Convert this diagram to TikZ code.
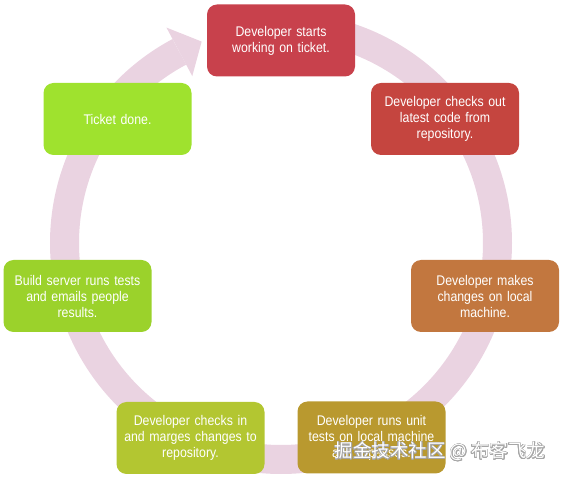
\documentclass[tikz,border=0pt]{standalone}
\usepackage{fontspec}
\usepackage[copies]{contour}
\newfontfamily\boxfont{Liberation Sans}[FakeStretch=0.88]
\newfontfamily\cjkfont{Noto Sans CJK SC}
\definecolor{ringpink}{HTML}{EAD3E1}
\definecolor{cA}{HTML}{C8414C}
\definecolor{cB}{HTML}{C5453F}
\definecolor{cC}{HTML}{C2773F}
\definecolor{cD}{HTML}{B9992F}
\definecolor{cE}{HTML}{B3C631}
\definecolor{cF}{HTML}{9BD22B}
\definecolor{cG}{HTML}{9FE22E}
\contourlength{0.55pt}
\tikzset{
  stepbox/.style={rounded corners=10pt, minimum height=72pt, minimum width=148pt,
    text width=140pt, align=center, text=white, inner sep=0pt,
    font=\boxfont\fontsize{14}{16}\selectfont},
}
\begin{document}
\begin{tikzpicture}[x=1pt,y=-1pt]
\useasboundingbox (0,0) rectangle (563,478);
% ring with arrow
\begin{scope}[shift={(281,243)}]
  \draw[ringpink, line width=29pt] (-90:216.5) arc[start angle=-90, end angle=242, radius=216.5];
  \fill[ringpink] (-118:244) -- (-111.5:216.5) -- (-118:189) -- cycle;
\end{scope}
% boxes
\node[stepbox, fill=cA] (s1) at (281,40.5) {Developer starts\\working on ticket.};
\node[stepbox, fill=cB] (s2) at (445,119) {Developer checks out\\latest code from\\repository.};
\node[stepbox, fill=cC] (s3) at (485,296) {Developer makes\\changes on local\\machine.};
\node[stepbox, fill=cD] (s4) at (371.5,437.5) {Developer runs unit\\tests on local machine\\and it passes.};
\node[stepbox, fill=cE] (s5) at (190.5,438) {Developer checks in\\and marges changes to\\repository.};
\node[stepbox, fill=cF] (s6) at (77.5,296) {Build server runs tests\\and emails people\\results.};
\node[stepbox, fill=cG] (s7) at (117.5,119) {Ticket done.};
% watermark
\node[text=white, inner sep=0pt, font=\cjkfont\fontsize{18.5}{20}\selectfont] (wm) at (440,452)
  {\contour{gray!70}{掘金技术社区 @ 布客飞龙}};
\end{tikzpicture}
\end{document}
